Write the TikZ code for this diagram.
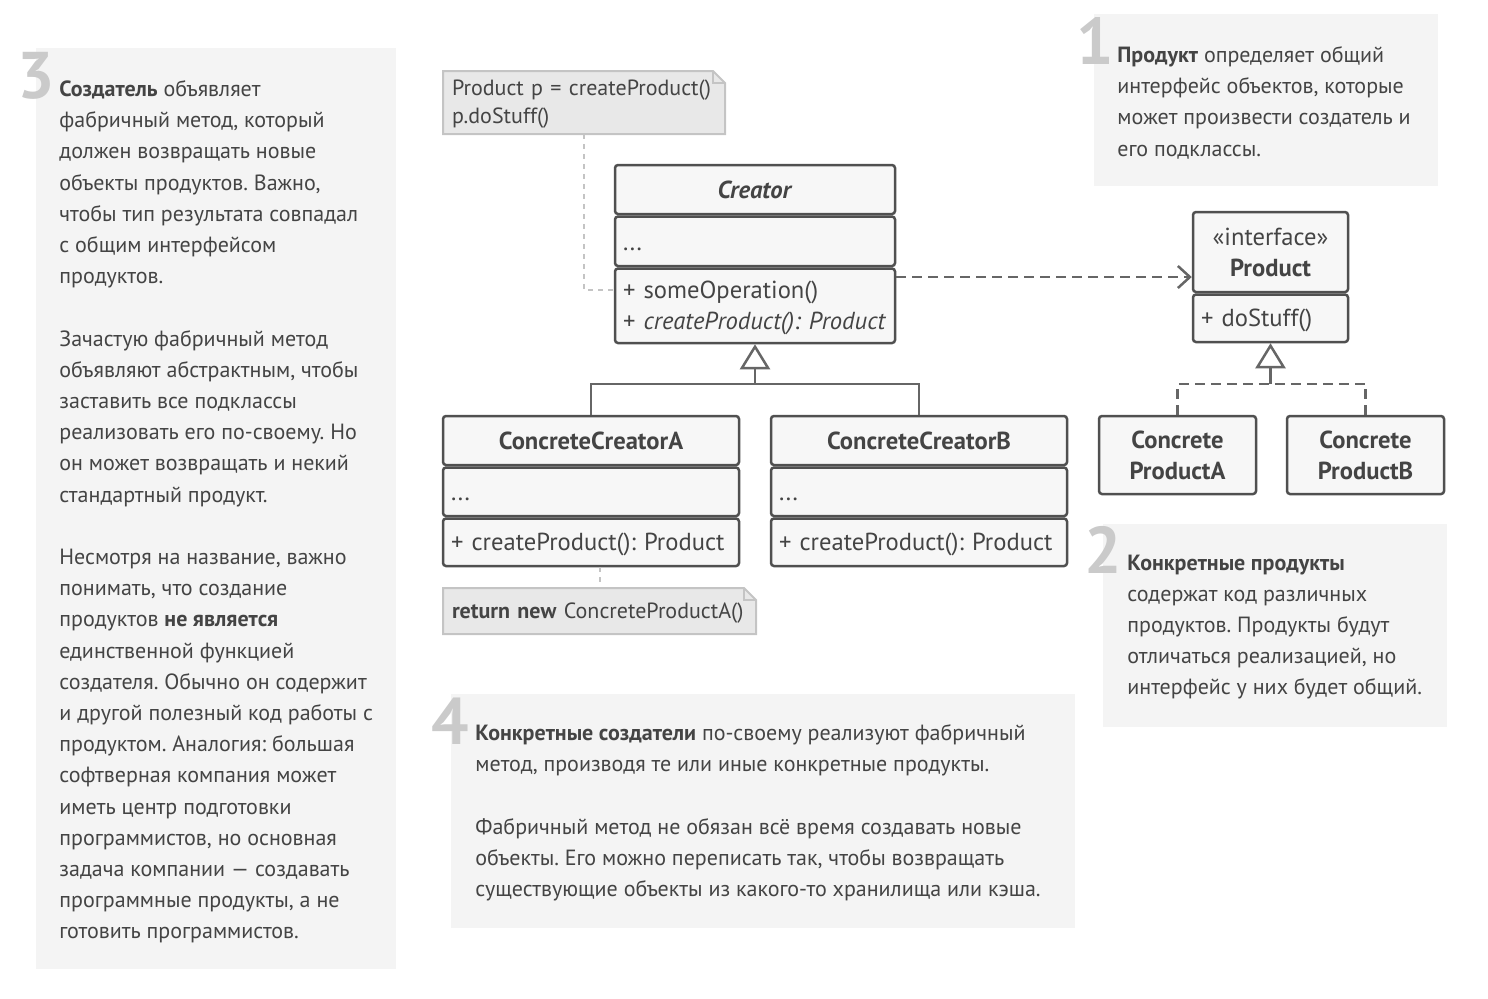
\documentclass[tikz,border=0pt]{standalone}
\usepackage{fontspec}
\setmainfont{PT Sans}
\usetikzlibrary{arrows.meta,positioning}

\definecolor{ink}{HTML}{444444}
\definecolor{panelfill}{HTML}{F4F4F4}
\definecolor{numgray}{HTML}{CACACA}
\definecolor{boxline}{HTML}{505050}
\definecolor{boxfill}{HTML}{F7F7F7}
\definecolor{notefill}{HTML}{E8E8E8}
\definecolor{noteline}{HTML}{C4C4C4}
\definecolor{linkgray}{HTML}{666666}

\newcommand{\paneltextfont}{\fontsize{11}{15.6}\selectfont\frenchspacing}
\newcommand{\classtextfont}{\fontsize{12.3}{15.5}\selectfont\frenchspacing}

\tikzset{
  panel/.style={fill=panelfill},
  bignum/.style={anchor=base east, inner sep=0pt, text=numgray, font=\fontsize{33}{33}\selectfont\bfseries},
  paneltext/.style={anchor=north west, inner sep=0pt, align=left, text=ink, font=\paneltextfont,
    execute at begin node=\strut},
  classpart/.style={draw=boxline, fill=boxfill, line width=1.25pt, rounded corners=1.5pt,
    inner xsep=4pt, inner ysep=0pt, text width=#1, text=ink, font=\classtextfont,
    execute at begin node=\rule{0pt}{10.85pt}, execute at end node=\rule[-1.65pt]{0pt}{1pt}},
  classhead/.style={classpart=#1, align=center, font=\classtextfont\bfseries},
  classbody/.style={classpart=#1, align=left},
  note/.style={fill=notefill, inner xsep=4.5pt, inner ysep=0pt, outer sep=0pt, align=left,
    text width=#1, text=ink, font=\fontsize{11}{14}\selectfont\frenchspacing,
    execute at begin node=\rule{0pt}{9.8pt}, execute at end node=\rule[-2.2pt]{0pt}{1pt}},
  notelink/.style={draw=noteline, line width=1pt, dash pattern=on 2.5pt off 2.5pt},
  inherit/.style={draw=linkgray, line width=1.25pt},
  depend/.style={draw=linkgray, line width=1.25pt, dash pattern=on 5pt off 3pt},
}

\begin{document}
\begin{tikzpicture}[x=0.5pt, y=-0.5pt, node distance=0pt]
\useasboundingbox (0,0) rectangle (1488,998);

% explanation panels
\fill[panel] (36,48) rectangle (396,969);
\fill[panel] (1094,14) rectangle (1438,186);
\fill[panel] (1103,524) rectangle (1447,727);
\fill[panel] (451,694) rectangle (1075,928);

\node[bignum] (num-creator) at (55,98) {3};
\node[paneltext] (text-creator) at (59,80.2) {\textbf{Создатель} объявляет\\
фабричный метод, который\\
должен возвращать новые\\
объекты продуктов. Важно,\\
чтобы тип результата совпадал\\
с общим интерфейсом\\
продуктов.\\[15.6pt]
Зачастую фабричный метод\\
объявляют абстрактным, чтобы\\
заставить все подклассы\\
реализовать его по-своему. Но\\
он может возвращать и некий\\
стандартный продукт.\\[15.6pt]
Несмотря на название, важно\\
понимать, что создание\\
продуктов \textbf{не является}\\
единственной функцией\\
создателя. Обычно он содержит\\
и другой полезный код работы с\\
продуктом. Аналогия: большая\\
софтверная компания может\\
иметь центр подготовки\\
программистов, но основная\\
задача компании — создавать\\
программные продукты, а не\\
готовить программистов.};

\node[bignum] (num-product) at (1114,64) {1};
\node[paneltext] (text-product) at (1117,46.2) {\textbf{Продукт} определяет общий\\
интерфейс объектов, которые\\
может произвести создатель и\\
его подклассы.};

\node[bignum] (num-concrete-product) at (1122,573) {2};
\node[paneltext] (text-concrete-product) at (1127,554.2) {\textbf{Конкретные продукты}\\
содержат код различных\\
продуктов. Продукты будут\\
отличаться реализацией, но\\
интерфейс у них будет общий.};

\node[bignum] (num-concrete-creator) at (469,744) {4};
\node[paneltext] (text-concrete-creator) at (475,724.2) {\textbf{Конкретные создатели} по-своему реализуют фабричный\\
метод, производя те или иные конкретные продукты.\\[15.6pt]
Фабричный метод не обязан всё время создавать новые\\
объекты. Его можно переписать так, чтобы возвращать\\
существующие объекты из какого-то хранилища или кэша.};

% classes
\node[classhead=132pt, minimum height=24.5pt] (creator-name) at (755,189.5) {\textit{Creator}};
\node[classbody=132pt, minimum height=24.75pt, below=of creator-name] (creator-attr) {...};
\node[classbody=132pt, minimum height=37.25pt, below=of creator-attr] (creator-ops) {+ someOperation()\\ + \textit{createProduct(): Product}};

\node[classhead=69.5pt, minimum height=40pt] (product-name) at (1270.5,252) {\textmd{«interface»}\\ Product};
\node[classbody=69.5pt, minimum height=23.75pt, below=of product-name] (product-ops) {+ doStuff()};

\node[classhead=140pt, minimum height=24.5pt] (cca-name) at (591,440.5) {ConcreteCreatorA};
\node[classbody=140pt, minimum height=24.25pt, below=of cca-name] (cca-attr) {...};
\node[classbody=140pt, minimum height=23.75pt, below=of cca-attr] (cca-ops) {+ createProduct(): Product};

\node[classhead=140pt, minimum height=24.5pt] (ccb-name) at (919,440.5) {ConcreteCreatorB};
\node[classbody=140pt, minimum height=24.25pt, below=of ccb-name] (ccb-attr) {...};
\node[classbody=140pt, minimum height=23.75pt, below=of ccb-attr] (ccb-ops) {+ createProduct(): Product};

\node[classhead=70.5pt, minimum height=39pt] (cpa) at (1177.5,455) {Concrete\\ ProductA};
\node[classhead=70.5pt, minimum height=39pt] (cpb) at (1365.5,455) {Concrete\\ ProductB};

% notes with folded corner
\node[note=132pt, minimum height=31.5pt] (note-use) at (584,102.5) {Product p = createProduct()\\ p.doStuff()};
\node[note=147.5pt, minimum height=23pt] (note-return) at (599.5,611) {\textbf{return new} ConcreteProductA()};
\foreach \n in {note-use,note-return}{
  \fill[white] ([xshift=-6pt]\n.north east) -- (\n.north east) -- ([yshift=-6pt]\n.north east) -- cycle;
  \draw[noteline, line width=1pt] (\n.north west) -- ([xshift=-6pt]\n.north east) -- ([yshift=-6pt]\n.north east)
    -- (\n.south east) -- (\n.south west) -- cycle;
  \draw[noteline, line width=1pt] ([xshift=-6pt]\n.north east) |- ([yshift=-6pt]\n.north east);
}

% connectors
\coordinate (use-end) at (creator-ops.west |- 0,290);
\draw[notelink] (note-use.south) |- (use-end);
\draw[notelink] (cca-ops.south -| note-return.north) -- (note-return.north);

\coordinate (dep-start) at (creator-ops.east |- 0,277);
\draw[depend, -{Straight Barb[length=6pt, width=11pt, line width=1.25pt]}] (dep-start) -- (dep-start -| product-name.west);

\coordinate (creator-join) at (creator-ops.south |- 0,384);
\draw[inherit] (cca-name.north) |- (creator-join) -| (ccb-name.north);
\draw[inherit, -{Triangle[open, length=12.5pt, width=15pt, line width=1.25pt]}] (creator-join) -- (creator-ops.south);

\coordinate (product-join) at (product-ops.south |- 0,384);
\draw[depend] (cpa.north) |- (product-join) -| (cpb.north);
\draw[inherit, -{Triangle[open, length=12.5pt, width=15pt, line width=1.25pt]}] (product-join) -- (product-ops.south);
\end{tikzpicture}
\end{document}
